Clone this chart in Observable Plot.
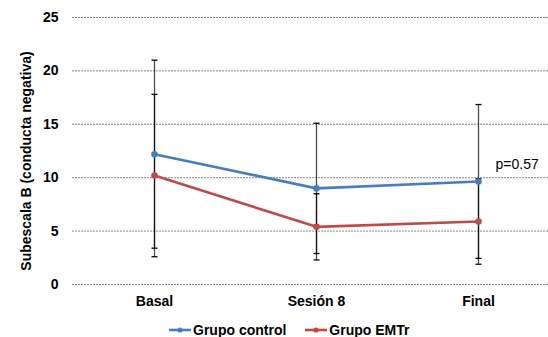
<!DOCTYPE html>
<html><head><meta charset="utf-8">
<script src="https://cdn.jsdelivr.net/npm/d3@7"></script>
<script src="https://cdn.jsdelivr.net/npm/@observablehq/plot@0.6"></script>
<style>
body{margin:0;background:#fff;font-family:"Liberation Sans",Arial,sans-serif}
#legend{display:flex;align-items:center;padding-left:169px;padding-top:5px;height:25px;font-weight:bold;font-size:14px;color:#000}
#legend .item{display:flex;align-items:center;margin-right:19px}
#legend svg{margin-right:2px}
</style>
</head><body><div id="chart"></div>
<script>
const categories = ["Basal", "Sesión 8", "Final"];
const controlMean = [12.2, 9.0, 9.65];
const controlSD = [8.8, 6.1, 7.2];
const emtrMean = [10.2, 5.4, 5.9];
const emtrSD = [7.6, 3.1, 4.0];
const yTicks = [0, 5, 10, 15, 20, 25];
const seriesNames = ["Grupo control", "Grupo EMTr"];
const seriesColors = ["#4a7ebb", "#be4b48"];
const yLabel = "Subescala B (conducta negativa)";
const pLabel = "p=0.57";

const rows = [];
categories.forEach((c, i) => {
  rows.push({cat: c, series: seriesNames[0], mean: controlMean[i], sd: controlSD[i]});
  rows.push({cat: c, series: seriesNames[1], mean: emtrMean[i], sd: emtrSD[i]});
});
const capSymbol = {draw(ctx, size) { const w = Math.sqrt(size / Math.PI); ctx.moveTo(-w, 0); ctx.lineTo(w, 0); }};
const color = {domain: seriesNames, range: seriesColors};

const chart = Plot.plot({
  width: 548, height: 312,
  marginLeft: 72, marginRight: 0, marginTop: 17, marginBottom: 28,
  style: {fontFamily: "'Liberation Sans', Arial, sans-serif", fontSize: "14px", background: "#fff", color: "#000"},
  x: {type: "point", domain: categories, range: [153, 478], padding: 0},
  y: {domain: [0, 25]},
  color,
  marks: [
    Plot.gridY(yTicks, {stroke: "#888", strokeOpacity: 1, strokeDasharray: "2,1", strokeWidth: 1}),
    Plot.axisY(yTicks, {tickSize: 0, tickPadding: 14, fontWeight: "bold", fontSize: 14, label: null}),
    Plot.text([yLabel], {frameAnchor: "left", text: d => d, rotate: -90, textAnchor: "middle", dx: -46, dy: 10, fontWeight: "bold", fontSize: 14, fill: "#000"}),
    Plot.axisX({tickSize: 0, tickPadding: 12, fontWeight: "bold", fontSize: 14, label: null}),
    Plot.ruleX(rows, {x: "cat", y1: d => d.mean - d.sd, y2: d => d.mean + d.sd, stroke: "#000", strokeOpacity: 0.7, strokeWidth: 1.3}),
    Plot.dot(rows, {x: "cat", y: d => d.mean - d.sd, symbol: capSymbol, r: 3, stroke: "#000", strokeWidth: 1.3, fill: "none"}),
    Plot.dot(rows, {x: "cat", y: d => d.mean + d.sd, symbol: capSymbol, r: 3, stroke: "#000", strokeWidth: 1.3, fill: "none"}),
    Plot.line(rows, {x: "cat", y: "mean", z: "series", stroke: "series", strokeWidth: 2.6}),
    Plot.dot(rows, {x: "cat", y: "mean", fill: "series", r: 3.3}),
    Plot.text([pLabel], {x: () => categories[2], y: () => controlMean[2], text: d => d, dx: 17, dy: -17, textAnchor: "start", fontSize: 14, fill: "#000"})
  ]
});
document.getElementById("chart").appendChild(chart);

const legend = document.createElement("div");
legend.id = "legend";
seriesNames.forEach((n, i) => {
  const item = document.createElement("div");
  item.className = "item";
  item.innerHTML = `<svg width="22" height="8"><line x1="0" y1="4" x2="22" y2="4" stroke="${seriesColors[i]}" stroke-width="2.6"/><circle cx="11" cy="4" r="2.6" fill="${seriesColors[i]}"/></svg><span>${n}</span>`;
  legend.appendChild(item);
});
document.body.appendChild(legend);
</script>
</body></html>
